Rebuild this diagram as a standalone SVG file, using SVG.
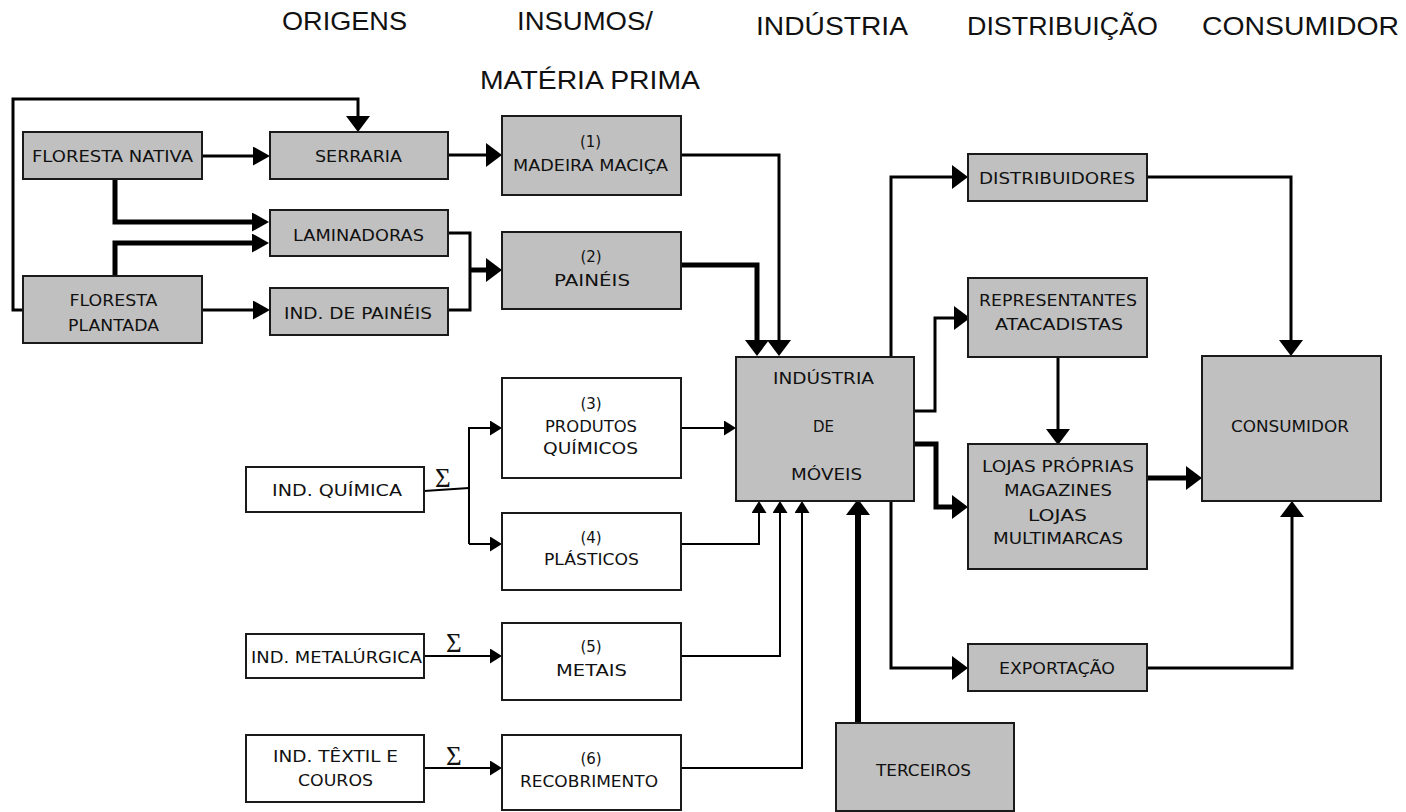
<svg xmlns="http://www.w3.org/2000/svg" width="1406" height="812" viewBox="0 0 1406 812">
<style>
.g{fill:#c0c0c0;stroke:#1a1a1a;stroke-width:2}
.w{fill:#ffffff;stroke:#1a1a1a;stroke-width:2}
.t{font-family:"DejaVu Sans","Liberation Sans",sans-serif;font-size:15px;fill:#111;text-anchor:middle}
.h{font-family:"Liberation Sans",Arial,sans-serif;font-size:25px;fill:#111}
.sig{font-family:"Liberation Serif","DejaVu Serif",serif;font-size:27px;fill:#111}
.c{fill:none;stroke:#000;stroke-linejoin:miter}
.s2{stroke-width:2}
.s3{stroke-width:3}
.s5{stroke-width:5}
.s6{stroke-width:6}
</style>
<defs>
<marker id="mBig" viewBox="0 0 10 10" preserveAspectRatio="none" refX="0" refY="5" markerUnits="userSpaceOnUse" markerWidth="16" markerHeight="24" orient="auto"><path d="M0,0 L10,5 L0,10 z" fill="#000"/></marker>
<marker id="mMed" viewBox="0 0 10 10" preserveAspectRatio="none" refX="0" refY="5" markerUnits="userSpaceOnUse" markerWidth="17" markerHeight="19" orient="auto"><path d="M0,0 L10,5 L0,10 z" fill="#000"/></marker>
<marker id="mSm" viewBox="0 0 10 10" preserveAspectRatio="none" refX="0" refY="5" markerUnits="userSpaceOnUse" markerWidth="12" markerHeight="15" orient="auto"><path d="M0,0 L10,5 L0,10 z" fill="#000"/></marker>
</defs>

<g id="headers">
<text class="h" x="282" y="30" textLength="125" lengthAdjust="spacingAndGlyphs">ORIGENS</text>
<text class="h" x="517" y="30" textLength="136" lengthAdjust="spacingAndGlyphs">INSUMOS/</text>
<text class="h" x="480" y="89" textLength="220" lengthAdjust="spacingAndGlyphs">MATÉRIA PRIMA</text>
<text class="h" x="756" y="35" textLength="152" lengthAdjust="spacingAndGlyphs">INDÚSTRIA</text>
<text class="h" x="967" y="35" textLength="191" lengthAdjust="spacingAndGlyphs">DISTRIBUIÇÃO</text>
<text class="h" x="1202" y="35" textLength="197" lengthAdjust="spacingAndGlyphs">CONSUMIDOR</text>
</g>

<g id="connectors">
<path class="c s3" d="M23,310 H13 V99 H358 V116" marker-end="url(#mBig)"/>
<path class="c s3" d="M202,156 H253" marker-end="url(#mMed)"/>
<path class="c s5" d="M115,179 V222 H252" marker-end="url(#mMed)"/>
<path class="c s5" d="M115,276 V243 H252" marker-end="url(#mMed)"/>
<path class="c s3" d="M202,310 H253" marker-end="url(#mMed)"/>
<path class="c s3" d="M448,155 H486" marker-end="url(#mBig)"/>
<path class="c s3" d="M448,233 H470 V310 H448"/>
<path class="c s5" d="M470,270 H486" marker-end="url(#mBig)"/>
<path class="c s3" d="M681,155 H779 V340" marker-end="url(#mBig)"/>
<path class="c s5" d="M681,265 H757 V340" marker-end="url(#mBig)"/>
<path class="c s3" d="M891,357 V177 H952" marker-end="url(#mBig)"/>
<path class="c s3" d="M914,411 H935 V318 H954" marker-end="url(#mBig)"/>
<path class="c s5" d="M914,444 H936 V507 H952" marker-end="url(#mBig)"/>
<path class="c s3" d="M891,501 V668 H952" marker-end="url(#mBig)"/>
<path class="c s3" d="M1147,177 H1291 V340" marker-end="url(#mBig)"/>
<path class="c s3" d="M1058,357 V429" marker-end="url(#mBig)"/>
<path class="c s5" d="M1147,478 H1186" marker-end="url(#mBig)"/>
<path class="c s3" d="M1147,668 H1292 V517" marker-end="url(#mBig)"/>
<path class="c s6" d="M858,723 V515" marker-end="url(#mBig)"/>
<path class="c s2" d="M424,491 L469,488"/>
<path class="c s2" d="M469,544 V428 H490" marker-end="url(#mSm)"/>
<path class="c s2" d="M469,544 H490" marker-end="url(#mSm)"/>
<path class="c s2" d="M681,428 H724" marker-end="url(#mSm)"/>
<path class="c s2" d="M681,544 H759 V513" marker-end="url(#mSm)"/>
<path class="c s2" d="M681,656 H780 V513" marker-end="url(#mSm)"/>
<path class="c s2" d="M681,768 H802 V513" marker-end="url(#mSm)"/>
<path class="c s2" d="M424,656 H490" marker-end="url(#mSm)"/>
<path class="c s2" d="M424,768 H490" marker-end="url(#mSm)"/>
<text class="sig" x="435" y="487">Σ</text>
<text class="sig" x="446" y="652">Σ</text>
<text class="sig" x="446" y="765">Σ</text>
</g>

<g id="n_floresta_nativa"><rect class="g" x="23" y="132" width="179" height="47"/><text class="t" x="112.5" y="162" textLength="161" lengthAdjust="spacingAndGlyphs">FLORESTA NATIVA</text></g>
<g id="n_serraria"><rect class="g" x="270" y="132" width="178" height="47"/><text class="t" x="358.5" y="162" textLength="87" lengthAdjust="spacingAndGlyphs">SERRARIA</text></g>
<g id="n_laminadoras"><rect class="g" x="270" y="210" width="178" height="46"/><text class="t" x="358.5" y="241" textLength="131" lengthAdjust="spacingAndGlyphs">LAMINADORAS</text></g>
<g id="n_floresta_plantada"><rect class="g" x="23" y="276" width="179" height="67"/><text class="t" x="113.5" y="306" textLength="88" lengthAdjust="spacingAndGlyphs">FLORESTA</text><text class="t" x="113.5" y="331" textLength="91" lengthAdjust="spacingAndGlyphs">PLANTADA</text></g>
<g id="n_ind_paineis"><rect class="g" x="270" y="288" width="178" height="47"/><text class="t" x="358" y="319" textLength="148" lengthAdjust="spacingAndGlyphs">IND. DE PAINÉIS</text></g>
<g id="n_madeira"><rect class="g" x="502" y="116" width="179" height="79"/><text class="t" x="590.5" y="147">(1)</text><text class="t" x="590.5" y="171" textLength="155" lengthAdjust="spacingAndGlyphs">MADEIRA MACIÇA</text></g>
<g id="n_paineis"><rect class="g" x="502" y="232" width="179" height="77"/><text class="t" x="591" y="262">(2)</text><text class="t" x="592" y="286" textLength="76" lengthAdjust="spacingAndGlyphs">PAINÉIS</text></g>
<g id="n_produtos"><rect class="w" x="502" y="378" width="179" height="100"/><text class="t" x="591" y="409">(3)</text><text class="t" x="591" y="432" textLength="92" lengthAdjust="spacingAndGlyphs">PRODUTOS</text><text class="t" x="590.5" y="454" textLength="95" lengthAdjust="spacingAndGlyphs">QUÍMICOS</text></g>
<g id="n_plasticos"><rect class="w" x="502" y="513" width="179" height="77"/><text class="t" x="591" y="543">(4)</text><text class="t" x="591.5" y="565" textLength="95" lengthAdjust="spacingAndGlyphs">PLÁSTICOS</text></g>
<g id="n_ind_quimica"><rect class="w" x="246" y="467" width="178" height="45"/><text class="t" x="337" y="496" textLength="130" lengthAdjust="spacingAndGlyphs">IND. QUÍMICA</text></g>
<g id="n_ind_metalurgica"><rect class="w" x="246" y="634" width="178" height="44"/><text class="t" x="336.5" y="663" textLength="171" lengthAdjust="spacingAndGlyphs">IND. METALÚRGICA</text></g>
<g id="n_metais"><rect class="w" x="502" y="623" width="179" height="77"/><text class="t" x="591" y="652">(5)</text><text class="t" x="591.5" y="676" textLength="71" lengthAdjust="spacingAndGlyphs">METAIS</text></g>
<g id="n_ind_textil"><rect class="w" x="246" y="735" width="178" height="67"/><text class="t" x="335.5" y="762" textLength="125" lengthAdjust="spacingAndGlyphs">IND. TÊXTIL E</text><text class="t" x="335.5" y="786" textLength="75" lengthAdjust="spacingAndGlyphs">COUROS</text></g>
<g id="n_recobrimento"><rect class="w" x="502" y="735" width="179" height="75"/><text class="t" x="591" y="764">(6)</text><text class="t" x="589" y="787" textLength="138" lengthAdjust="spacingAndGlyphs">RECOBRIMENTO</text></g>
<g id="n_industria"><rect class="g" x="736" y="357" width="178" height="144"/><text class="t" x="823.5" y="384" textLength="101" lengthAdjust="spacingAndGlyphs">INDÚSTRIA</text><text class="t" x="823.5" y="432">DE</text><text class="t" x="826.5" y="480" textLength="71" lengthAdjust="spacingAndGlyphs">MÓVEIS</text></g>
<g id="n_distribuidores"><rect class="g" x="968" y="154" width="179" height="47"/><text class="t" x="1057" y="184" textLength="156" lengthAdjust="spacingAndGlyphs">DISTRIBUIDORES</text></g>
<g id="n_representantes"><rect class="g" x="968" y="278" width="179" height="79"/><text class="t" x="1058" y="306" textLength="158" lengthAdjust="spacingAndGlyphs">REPRESENTANTES</text><text class="t" x="1059" y="330" textLength="128" lengthAdjust="spacingAndGlyphs">ATACADISTAS</text></g>
<g id="n_lojas"><rect class="g" x="968" y="444" width="179" height="125"/><text class="t" x="1058" y="472" textLength="152" lengthAdjust="spacingAndGlyphs">LOJAS PRÓPRIAS</text><text class="t" x="1058" y="496" textLength="108" lengthAdjust="spacingAndGlyphs">MAGAZINES</text><text class="t" x="1057.5" y="521" textLength="59" lengthAdjust="spacingAndGlyphs">LOJAS</text><text class="t" x="1058" y="544" textLength="130" lengthAdjust="spacingAndGlyphs">MULTIMARCAS</text></g>
<g id="n_exportacao"><rect class="g" x="968" y="644" width="179" height="47"/><text class="t" x="1057" y="674" textLength="116" lengthAdjust="spacingAndGlyphs">EXPORTAÇÃO</text></g>
<g id="n_consumidor"><rect class="g" x="1202" y="356" width="179" height="145"/><text class="t" x="1290" y="432" textLength="118" lengthAdjust="spacingAndGlyphs">CONSUMIDOR</text></g>
<g id="n_terceiros"><rect class="g" x="836" y="723" width="178" height="88"/><text class="t" x="923.5" y="776" textLength="95" lengthAdjust="spacingAndGlyphs">TERCEIROS</text></g>
</svg>
